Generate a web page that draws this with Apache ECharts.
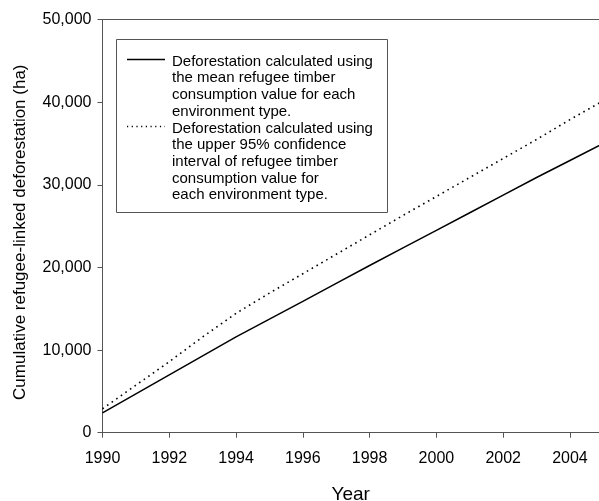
<!DOCTYPE html>
<html>
<head>
<meta charset="utf-8">
<script src="https://cdn.jsdelivr.net/npm/echarts@6/dist/echarts.min.js"></script>
<style>html,body{margin:0;padding:0;background:#fff}#c{width:599px;height:501px}</style>
</head>
<body>
<div id="c"></div>
<script>
const years = [1990,1991,1992,1993,1994,1995,1996,1997,1998,1999,2000,2001,2002,2003,2004,2005];
const meanSeries = [2400,4700,7000,9300,11600,13750,15900,18080,20240,22380,24500,26630,28760,30900,32950,35020];
const upperSeries = [2900,5750,8600,11600,14450,16900,19250,21600,23950,26300,28600,30900,33200,35500,37900,40200];
const yTicks = [0,10000,20000,30000,40000,50000];
const legendMean = ['Deforestation calculated using','the mean refugee timber','consumption value for each','environment type.'];
const legendUpper = ['Deforestation calculated using','the upper 95% confidence','interval of refugee timber','consumption value for','each environment type.'];

const FONT = 'Liberation Sans, Arial, Helvetica, sans-serif';
const AX = '#555';
const chart = echarts.init(document.getElementById('c'));
const pairs = a => years.map((y,i)=>[y,a[i]]);
chart.setOption({
  animation:false,
  grid:{left:102.5,right:0,top:19.7,bottom:68.3,containLabel:false,outerBoundsMode:'none'},
  xAxis:[{
    type:'value',min:1990,max:2004.87,interval:2,
    name:'Year',nameLocation:'middle',nameGap:53,
    nameTextStyle:{fontFamily:FONT,fontSize:19,color:'#000'},
    axisLine:{show:true,lineStyle:{color:AX,width:1}},
    axisTick:{show:true,length:5,lineStyle:{color:AX}},
    axisLabel:{fontFamily:FONT,fontSize:16,color:'#000',margin:18,showMaxLabel:false,
      formatter:v=>String(v)},
    splitLine:{show:false}
  },{
    type:'value',position:'top',min:1990,max:2004.87,
    axisLine:{show:true,lineStyle:{color:AX,width:1}},
    axisTick:{show:false},axisLabel:{show:false},splitLine:{show:false}
  }],
  yAxis:{
    type:'value',min:yTicks[0],max:yTicks[yTicks.length-1],interval:10000,
    name:'Cumulative refugee-linked deforestation (ha)',nameLocation:'middle',nameGap:74,nameRotate:90,
    nameTextStyle:{fontFamily:FONT,fontSize:17,color:'#000',padding:[0,12,0,0]},
    axisLine:{show:true,lineStyle:{color:AX,width:1}},
    axisTick:{show:true,length:5,lineStyle:{color:AX}},
    axisLabel:{fontFamily:FONT,fontSize:16,color:'#000',margin:11,
      formatter:v=>v.toLocaleString('en-US')},
    splitLine:{show:false}
  },
  series:[
    {type:'line',name:'mean',data:pairs(meanSeries),showSymbol:false,symbol:'none',
      lineStyle:{color:'#000',width:1.5},clip:true},
    {type:'line',name:'upper',data:pairs(upperSeries),showSymbol:false,symbol:'none',
      lineStyle:{color:'#000',width:1.6,type:[1.6,4]},clip:true}
  ],
  graphic:[
    {type:'rect',shape:{x:116.5,y:39.5,width:271,height:173},
      style:{fill:'#fff',stroke:AX,lineWidth:1}},
    {type:'line',shape:{x1:127,y1:59.5,x2:165,y2:59.5},style:{stroke:'#000',lineWidth:1.3}},
    {type:'line',shape:{x1:127,y1:126.5,x2:165,y2:126.5},style:{stroke:'#000',lineWidth:1.3,lineDash:[1.2,3.5]}},
    {type:'text',x:172,y:53.3,style:{text:legendMean.join('\n'),font:'15px '+FONT,lineHeight:16.7,fill:'#000'}},
    {type:'text',x:172,y:120.1,style:{text:legendUpper.join('\n'),font:'15px '+FONT,lineHeight:16.7,fill:'#000'}}
  ]
});
</script>
</body>
</html>
